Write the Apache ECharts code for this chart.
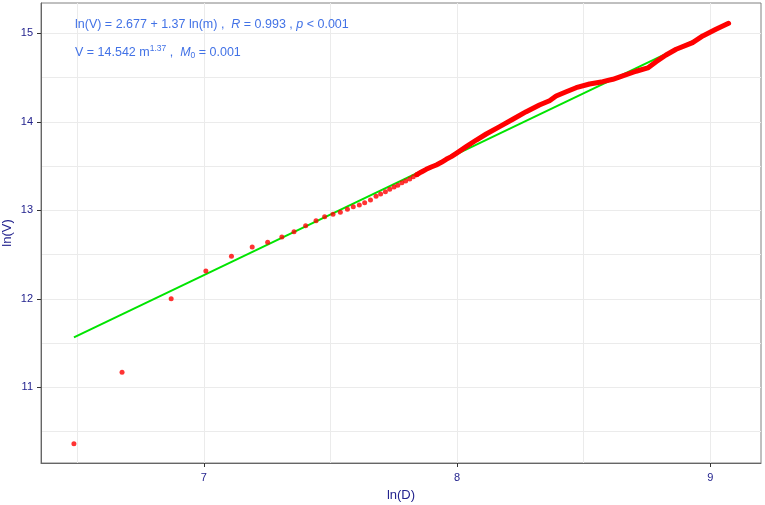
<!DOCTYPE html>
<html>
<head>
<meta charset="utf-8">
<script src="https://cdn.jsdelivr.net/npm/echarts@6/dist/echarts.min.js"></script>
<style>
  html, body { margin: 0; padding: 0; background: #fff; }
  #chart { width: 765px; height: 505px; }
</style>
</head>
<body>
<div id="chart"></div>
<script>
// observations, ln(D) vs ln(V) - the separate dots at the low end
var sparsePoints = [
  [6.487, 10.363], [6.677, 11.169], [6.871, 12.001], [7.008, 12.314],
  [7.109, 12.480], [7.191, 12.585], [7.252, 12.638], [7.308, 12.698],
  [7.356, 12.758], [7.402, 12.826], [7.443, 12.883], [7.477, 12.928],
  [7.510, 12.955], [7.539, 12.977], [7.567, 13.011], [7.590, 13.041],
  [7.614, 13.060], [7.635, 13.086], [7.658, 13.116], [7.680, 13.158],
  [7.698, 13.184], [7.717, 13.210], [7.734, 13.237], [7.751, 13.263],
  [7.766, 13.282], [7.782, 13.312], [7.797, 13.331], [7.813, 13.354],
  [7.827, 13.380], [7.841, 13.402]
]
// the high end, points so close they merge into a thick band
var densePoints = [
  [7.841, 13.402], [7.859, 13.433], [7.878, 13.463], [7.898, 13.489],
  [7.918, 13.512], [7.938, 13.542], [7.957, 13.576], [7.977, 13.606],
  [7.997, 13.644], [8.036, 13.719], [8.076, 13.794], [8.115, 13.862],
  [8.168, 13.945], [8.220, 14.028], [8.273, 14.114], [8.325, 14.190],
  [8.365, 14.238], [8.391, 14.291], [8.431, 14.340], [8.470, 14.385],
  [8.523, 14.427], [8.575, 14.453], [8.615, 14.480], [8.654, 14.518],
  [8.707, 14.571], [8.753, 14.608], [8.786, 14.679], [8.825, 14.755],
  [8.865, 14.819], [8.930, 14.894], [8.970, 14.970], [9.022, 15.045],
  [9.072, 15.113]
]
// fitted line ln(V) = 2.677 + 1.37 ln(m)
var fitLine = [[6.487, 11.564], [9.072, 15.106]]

var xTicks = [7, 8, 9]
var yTicks = [11, 12, 13, 14, 15]
var xGrid = [6.5, 7, 7.5, 8, 8.5, 9]
var yGrid = [10.5, 11, 11.5, 12, 12.5, 13, 13.5, 14, 14.5, 15]

var labelColor = '#23238e'
var textColor = '#4272e6'
var font = '"Liberation Sans", Arial, sans-serif'

var chart = echarts.init(document.getElementById('chart'))

var gridMarks = []
xGrid.forEach(function (v) { gridMarks.push({ xAxis: v }) })
yGrid.forEach(function (v) { gridMarks.push({ yAxis: v }) })

chart.setOption({
  animation: false,
  backgroundColor: '#fff',
  textStyle: { fontFamily: font },
  grid: {
    left: 41,
    right: 4,
    top: 3,
    bottom: 42,
    outerBoundsMode: 'none',
    containLabel: false,
    show: true,
    borderColor: '#808080',
    borderWidth: 1
  },
  xAxis: {
    type: 'value',
    min: 6.357,
    max: 9.2,
    name: 'ln(D)',
    nameLocation: 'middle',
    nameGap: 26,
    nameTextStyle: { color: labelColor, fontSize: 13, fontFamily: font },
    axisLine: { show: true, lineStyle: { color: '#666', width: 1 } },
    axisTick: { show: true, length: 4, customValues: xTicks, lineStyle: { color: '#333' } },
    axisLabel: { customValues: xTicks, color: labelColor, fontSize: 11, margin: 9, fontFamily: font },
    splitLine: { show: false }
  },
  yAxis: {
    type: 'value',
    min: 10.145,
    max: 15.342,
    name: 'ln(V)',
    nameLocation: 'middle',
    nameGap: 27,
    nameMoveOverlap: false,
    nameTextStyle: { color: labelColor, fontSize: 13, fontFamily: font },
    axisLine: { show: true, lineStyle: { color: '#666', width: 1 } },
    axisTick: { show: true, length: 4, customValues: yTicks, lineStyle: { color: '#333' } },
    axisLabel: { customValues: yTicks, color: labelColor, fontSize: 11, margin: 8, fontFamily: font },
    splitLine: { show: false }
  },
  graphic: [{
    type: 'text',
    left: 75,
    top: 18,
    z: 100,
    style: {
      text: 'ln(V) = 2.677 + 1.37 ln(m) ,  {i|R} = 0.993 , {i|p} < 0.001',
      fill: textColor,
      font: '12.5px ' + font,
      rich: {
        i: { fontStyle: 'italic', fontSize: 12.5, fill: textColor, fontFamily: font }
      }
    }
  }, {
    type: 'text',
    left: 75,
    top: 44,
    z: 100,
    style: {
      text: 'V = 14.542 m{sup|1.37} ,  {i|M}{sub|0} = 0.001',
      fill: textColor,
      font: '12.5px ' + font,
      rich: {
        i: { fontStyle: 'italic', fontSize: 12.5, fill: textColor, fontFamily: font },
        sup: { fontSize: 8.5, fill: textColor, fontFamily: font, padding: [0, 0, 9, 0] },
        sub: { fontSize: 8.5, fill: textColor, fontFamily: font, padding: [6, 0, 0, 0] }
      }
    }
  }],
  series: [
    {
      // carrier for the panel grid lines
      type: 'scatter',
      data: [],
      silent: true,
      z: 0,
      zlevel: 0,
      markLine: {
        silent: true,
        z: 0,
        symbol: ['none', 'none'],
        label: { show: false },
        emphasis: { disabled: true },
        lineStyle: { color: '#ebebeb', type: 'solid', width: 1 },
        data: gridMarks
      }
    },
    {
      type: 'line',
      data: fitLine,
      showSymbol: false,
      symbol: 'none',
      lineStyle: { color: '#00e400', width: 2 },
      z: 6
    },
    {
      type: 'line',
      data: densePoints,
      showSymbol: false,
      symbol: 'none',
      smooth: false,
      lineStyle: { color: '#ff0000', width: 5, cap: 'round', join: 'round' },
      z: 7
    },
    {
      type: 'scatter',
      data: sparsePoints,
      symbol: 'circle',
      symbolSize: 5,
      itemStyle: { color: '#ff0000' },
      z: 8
    }
  ]
})
</script>
</body>
</html>
